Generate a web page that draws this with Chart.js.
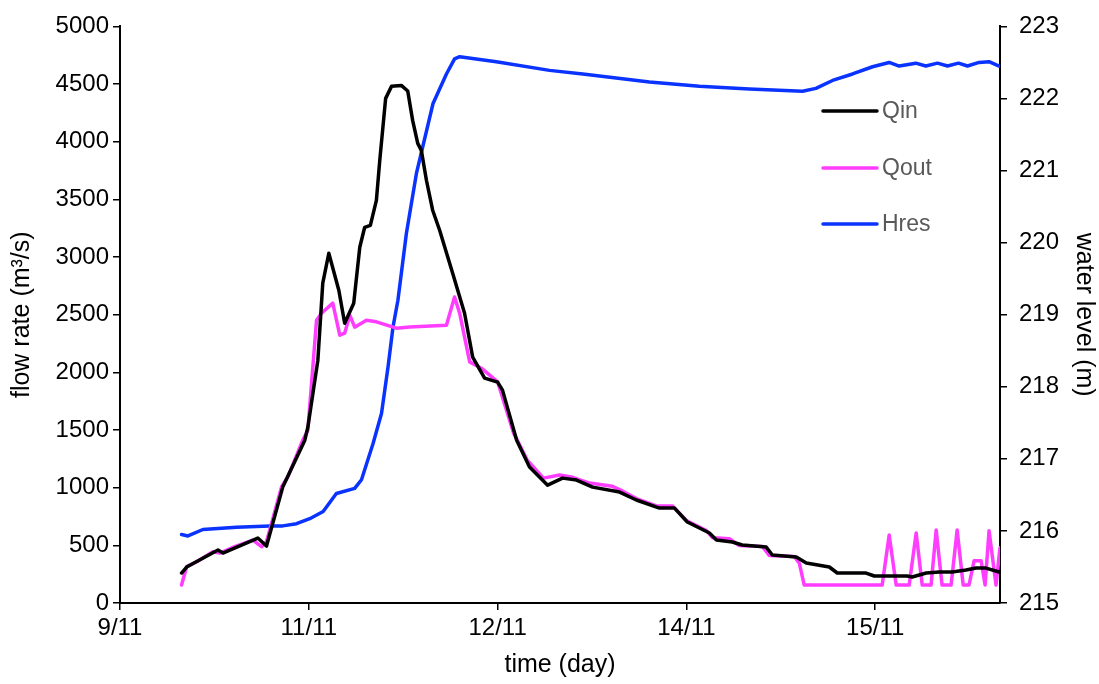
<!DOCTYPE html>
<html>
<head>
<meta charset="utf-8">
<script src="https://cdn.jsdelivr.net/npm/chart.js@4.4.1/dist/chart.umd.min.js"></script>
<style>
  html, body { margin: 0; padding: 0; background: #fff; }
  #wrap { width: 1099px; height: 684px; position: relative; }
</style>
</head>
<body>
<div id="wrap"><canvas id="chart"></canvas></div>
<script>
/* ── DATA (time in axis units: one unit per date label) ─────────────────── */
const X_TICKS = [0, 1, 2, 3, 4];
const X_LABELS = ["9/11", "11/11", "12/11", "14/11", "15/11"];

const qinT = [0.326, 0.353, 0.519, 0.545, 0.730, 0.776, 0.862, 0.979, 0.995, 1.048,
  1.074, 1.106, 1.159, 1.190, 1.238, 1.270, 1.296, 1.326, 1.358, 1.376,
  1.407, 1.438, 1.490, 1.524, 1.550, 1.577, 1.596, 1.623, 1.656, 1.693,
  1.762, 1.825, 1.868, 1.931, 2.000, 2.026, 2.101, 2.169, 2.265, 2.344,
  2.418, 2.503, 2.646, 2.735, 2.857, 2.937, 3.005, 3.122, 3.159, 3.243,
  3.296, 3.423, 3.455, 3.582, 3.635, 3.757, 3.799, 3.878, 3.952, 3.995,
  4.169, 4.196, 4.270, 4.339, 4.407, 4.481, 4.534, 4.587, 4.656];
const qinV = [260, 312, 459, 433, 563, 494, 1005, 1412, 1525, 2106,
  2773, 3033, 2712, 2426, 2600, 3085, 3258, 3275, 3492, 3840,
  4376, 4480, 4488, 4440, 4185, 3986, 3925, 3666, 3406, 3232,
  2860, 2513, 2132, 1950, 1915, 1846, 1412, 1179, 1022, 1083,
  1066, 1005, 962, 893, 823, 823, 702, 607, 546, 529,
  503, 485, 416, 399, 347, 312, 260, 260, 260, 234,
  234, 225, 260, 269, 269, 286, 303, 303, 269];

const qoutT = [0.326, 0.353, 0.406, 0.492, 0.529, 0.608, 0.704, 0.750, 0.776, 0.856,
  0.889, 0.968, 0.995, 1.041, 1.067, 1.127, 1.164, 1.190, 1.217, 1.243,
  1.305, 1.358, 1.464, 1.534, 1.729, 1.772, 1.799, 1.852, 1.914, 2.000,
  2.085, 2.157, 2.243, 2.328, 2.397, 2.487, 2.608, 2.661, 2.735, 2.841,
  2.926, 3.000, 3.106, 3.138, 3.228, 3.280, 3.402, 3.439, 3.571, 3.598,
  3.624, 4.037, 4.074, 4.111, 4.180, 4.217, 4.249, 4.296, 4.323, 4.354,
  4.402, 4.434, 4.466, 4.497, 4.524, 4.561, 4.582, 4.603, 4.640, 4.661];
const qoutV = [156, 315, 358, 445, 433, 488, 546, 488, 531, 1008,
  1094, 1412, 1499, 2452, 2513, 2600, 2322, 2340, 2496, 2392,
  2452, 2438, 2383, 2394, 2409, 2654, 2513, 2091, 2036, 1918,
  1473, 1239, 1083, 1110, 1090, 1040, 1012, 972, 905, 842,
  842, 715, 628, 566, 557, 498, 490, 412, 404, 345,
  156, 156, 589, 156, 156, 607, 156, 156, 633, 156,
  156, 633, 156, 156, 367, 367, 156, 627, 156, 480];

const hresT = [0.326, 0.360, 0.439, 0.617, 0.794, 0.862, 0.935, 1.005, 1.076, 1.146,
  1.243, 1.279, 1.340, 1.385, 1.420, 1.446, 1.472, 1.517, 1.570, 1.658,
  1.729, 1.772, 1.799, 1.993, 2.275, 2.451, 2.804, 3.069, 3.333, 3.615,
  3.686, 3.774, 3.880, 3.986, 4.074, 4.127, 4.215, 4.268, 4.330, 4.383,
  4.441, 4.489, 4.550, 4.603, 4.656];
const hresV = [215.95, 215.93, 216.02, 216.05, 216.07, 216.07, 216.10, 216.17, 216.27, 216.52,
  216.59, 216.71, 217.21, 217.63, 218.28, 218.83, 219.20, 220.13, 220.96, 221.93,
  222.34, 222.55, 222.58, 222.51, 222.39, 222.34, 222.23, 222.17, 222.13, 222.10,
  222.14, 222.25, 222.34, 222.44, 222.50, 222.45, 222.49, 222.45, 222.49, 222.45,
  222.49, 222.45, 222.50, 222.51, 222.45];

/* ── STYLE ──────────────────────────────────────────────────────────────── */
const FONT = "'Liberation Sans', Arial, sans-serif";
const INK = "#000000";
const LABEL_GREY = "#595959";
const TICK_FONT = { family: FONT, size: 24 };
const TITLE_FONT = { family: FONT, size: 25 };

function pts(ts, vs) {
  return ts.map((t, i) => ({ x: t, y: vs[i] }));
}

/* ── LEGEND (drawn inside the plot, Excel style) ───────────────────────── */
const insideLegend = {
  id: "insideLegend",
  afterDraw(chart) {
    const { ctx } = chart;
    const x0 = 823, x1 = 877, ys = [111, 168, 224];
    ctx.save();
    ctx.font = `23px ${FONT}`;
    ctx.textBaseline = "middle";
    chart.data.datasets.forEach((ds, i) => {
      ctx.strokeStyle = ds.borderColor;
      ctx.lineWidth = 3.5;
      ctx.lineCap = "round";
      ctx.beginPath();
      ctx.moveTo(x0, ys[i]);
      ctx.lineTo(x1, ys[i]);
      ctx.stroke();
      ctx.fillStyle = LABEL_GREY;
      ctx.fillText(ds.label, x1 + 5, ys[i] + 1);
    });
    ctx.restore();
  },
};

const lineStyle = {
  pointRadius: 0,
  borderWidth: 3.5,
  tension: 0,
  borderJoinStyle: "round",
  borderCapStyle: "round",
  fill: false,
};

const axisGrid = {
  drawOnChartArea: false,
  drawTicks: true,
  tickLength: 7,
  color: INK,
  lineWidth: 1.5,
};

new Chart(document.getElementById("chart"), {
  type: "line",
  data: {
    datasets: [
      { label: "Qin", data: pts(qinT, qinV), borderColor: "#000000", yAxisID: "y", ...lineStyle },
      { label: "Qout", data: pts(qoutT, qoutV), borderColor: "#ff3dff", yAxisID: "y", ...lineStyle },
      { label: "Hres", data: pts(hresT, hresV), borderColor: "#0a33ff", yAxisID: "y1", ...lineStyle },
    ],
  },
  options: {
    responsive: true,
    maintainAspectRatio: false,
    animation: false,
    layout: { padding: { top: 26, left: 0, right: 0, bottom: 0 } },
    plugins: { legend: { display: false }, tooltip: { enabled: false } },
    scales: {
      x: {
        type: "linear",
        min: 0,
        max: 4.661,
        afterBuildTicks: (s) => { s.ticks = X_TICKS.map((v) => ({ value: v })); },
        afterFit: (s) => { s.height = 81; },
        ticks: {
          color: INK,
          font: TICK_FONT,
          padding: 4,
          maxRotation: 0,
          callback: (v) => X_LABELS[X_TICKS.indexOf(v)] ?? "",
        },
        grid: axisGrid,
        border: { color: INK, width: 2 },
        title: { display: true, text: "time (day)", color: INK, font: TITLE_FONT, padding: { top: 0, bottom: 4 } },
      },
      y: {
        position: "left",
        min: 0,
        max: 5000,
        afterFit: (s) => { s.width = 120; },
        ticks: { stepSize: 500, color: INK, font: TICK_FONT, padding: 4, callback: (v) => String(v) },
        grid: axisGrid,
        border: { color: INK, width: 2 },
        title: { display: true, text: "flow rate (m³/s)", color: INK, font: TITLE_FONT, padding: { top: 7, bottom: 0 } },
      },
      y1: {
        position: "right",
        min: 215,
        max: 223,
        afterFit: (s) => { s.width = 99; },
        ticks: { stepSize: 1, color: INK, font: TICK_FONT, padding: 12, callback: (v) => String(v) },
        grid: axisGrid,
        border: { color: INK, width: 2 },
        title: { display: true, text: "water level (m)", color: INK, font: TITLE_FONT, padding: { top: 0, bottom: 0 } },
      },
    },
  },
  plugins: [insideLegend],
});
</script>
</body>
</html>
